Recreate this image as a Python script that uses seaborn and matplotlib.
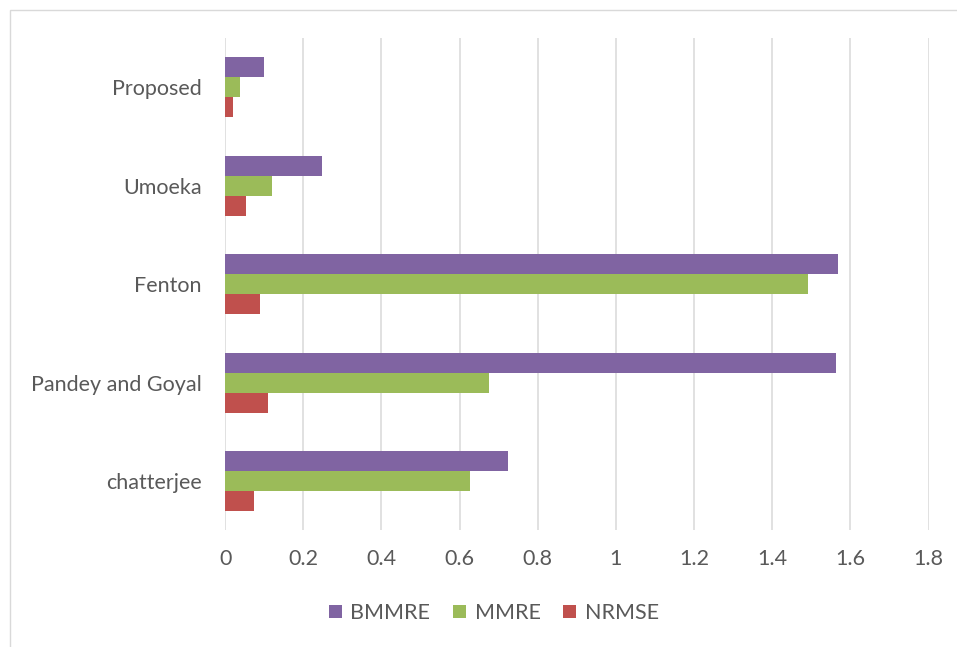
import matplotlib
matplotlib.use("Agg")
import matplotlib.pyplot as plt
import matplotlib.patches as mpatches
import pandas as pd
import seaborn as sns

methods = ["Proposed", "Umoeka", "Fenton", "Pandey and Goyal", "chatterjee"]
bmmre = [0.100, 0.247, 1.569, 1.564, 0.723]
mmre = [0.037, 0.120, 1.491, 0.674, 0.627]
nrmse = [0.021, 0.053, 0.088, 0.110, 0.074]
metrics = ["BMMRE", "MMRE", "NRMSE"]
colors = ["#8064A2", "#9BBB59", "#C0504D"]
x_ticks = [0, 0.2, 0.4, 0.6, 0.8, 1, 1.2, 1.4, 1.6, 1.8]
x_tick_labels = ["0", "0.2", "0.4", "0.6", "0.8", "1", "1.2", "1.4", "1.6", "1.8"]

df = pd.DataFrame({
    "method": methods * 3,
    "metric": [m for m in metrics for _ in methods],
    "value": bmmre + mmre + nrmse,
})

sns.set_theme(style="white")
plt.rcParams["font.family"] = ["Lato", "DejaVu Sans"]
text_color = "#595959"
grid_color = "#D9D9D9"

fig = plt.figure(figsize=(9.57, 6.47), dpi=100)
ax = fig.add_axes([0.2353, 0.1808, 0.735, 0.76])

sns.barplot(data=df, x="value", y="method", hue="metric", order=methods,
            hue_order=metrics, palette=colors, orient="h", width=0.61,
            saturation=1, errorbar=None, ax=ax, legend=False, linewidth=0)

ax.set_xlim(0, 1.8)
ax.set_xticks(x_ticks)
ax.set_xticklabels(x_tick_labels)
ax.set_ylim(len(methods) - 0.5, -0.5)
ax.set_xlabel("")
ax.set_ylabel("")
for s in ax.spines.values():
    s.set_visible(False)
ax.set_axisbelow(True)
ax.xaxis.grid(True, color=grid_color, linewidth=1.1)
ax.yaxis.grid(False)
ax.tick_params(axis="both", length=0, labelsize=15.5, colors=text_color)
ax.tick_params(axis="x", pad=14)
ax.tick_params(axis="y", pad=17)

handles = [mpatches.Patch(facecolor=c, edgecolor="none", label=m)
           for m, c in zip(metrics, colors)]
fig.legend(handles=handles, loc="center", bbox_to_anchor=(0.516, 1 - 613 / 647),
           ncol=3, frameon=False, fontsize=15.5, labelcolor=text_color,
           handlelength=0.6, handleheight=0.6, handletextpad=0.4,
           columnspacing=1.05)

# chart-area border
fig.add_artist(mpatches.Rectangle((9.5 / 957, -0.1), 1.2, 1 - 9.5 / 647 + 0.1,
                                  transform=fig.transFigure, fill=False,
                                  edgecolor=grid_color, linewidth=1.0))

fig.savefig("out.png", dpi=100, facecolor="white")
